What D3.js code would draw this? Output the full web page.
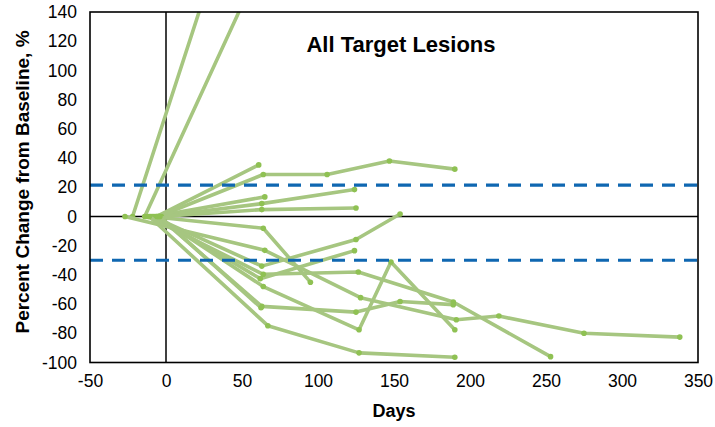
<!DOCTYPE html>
<html>
<head>
<meta charset="utf-8">
<script src="https://cdn.jsdelivr.net/npm/d3@7"></script>
<style>
  html, body { margin: 0; padding: 0; background: #fff; }
  svg { display: block; font-family: "Liberation Sans", Arial, Helvetica, sans-serif; }
</style>
</head>
<body>
<svg id="chart" width="715" height="427"></svg>
<script>
// ---- data ----
const chartTitle = "All Target Lesions";
const xTitle = "Days";
const yTitle = "Percent Change from Baseline, %";
const xTicks = [-50, 0, 50, 100, 150, 200, 250, 300, 350];
const yTicks = [-100, -80, -60, -40, -20, 0, 20, 40, 60, 80, 100, 120, 140];
const thresholds = [21.5, -30];

// days of each assessment, one array per lesion series
const seriesDays = [
  [-22, 63],
  [-14, 63],
  [-6, 61],
  [-5, 64, 106, 147, 190],
  [-8, 65],
  [-4, 63, 124],
  [-3, 63, 125],
  [-10, 64, 95],
  [-9, 63, 125, 154],
  [-7, 62, 124],
  [-12, 64, 126.5, 189, 253],
  [-27, 65, 128, 191, 219, 275, 338],
  [-6, 64, 127, 148, 190],
  [-5, 63, 125, 154, 189],
  [-4, 62.5],
  [-11, 67, 127, 190]
];
// percent change from baseline, matching seriesDays
const seriesChange = [
  [0, 272],
  [0, 174],
  [0, 35.3],
  [0, 28.7, 28.7, 38, 32.4],
  [0, 13.4],
  [0, 8.8, 18.4],
  [0, 4.7, 5.8],
  [0, -8.1, -45],
  [0, -34, -15.8, 1.7],
  [0, -42.6, -23.4],
  [0, -39.6, -38, -58.6, -96],
  [0, -23.2, -55.6, -70.7, -68.2, -80, -82.6],
  [0, -48, -77.6, -31.2, -77.6],
  [0, -61.6, -65.5, -58.2, -60.4],
  [0, -62.5],
  [0, -74.8, -93.4, -96.4]
];

// ---- layout ----
const svg = d3.select("#chart");
const pLeft = 90, pRight = 698, pTop = 12, pBottom = 362.5;

const x = d3.scaleLinear().domain([-50, 350]).range([pLeft, pRight]);
const y = d3.scaleLinear().domain([-100, 140]).range([pBottom, pTop]);

svg.append("defs").append("clipPath").attr("id", "plotclip")
  .append("rect").attr("x", pLeft).attr("y", pTop)
  .attr("width", pRight - pLeft).attr("height", pBottom - pTop);

// zero axes
svg.append("line").attr("x1", x(0)).attr("x2", x(0)).attr("y1", pTop).attr("y2", pBottom)
  .attr("stroke", "#000").attr("stroke-width", 1.5);
svg.append("line").attr("x1", pLeft).attr("x2", pRight).attr("y1", y(0)).attr("y2", y(0))
  .attr("stroke", "#000").attr("stroke-width", 1.5);

// series
const plot = svg.append("g").attr("clip-path", "url(#plotclip)");
const line = d3.line().x(d => x(d[0])).y(d => y(d[1]));
const lineColor = "#a6c680";
const dotColor = "#8fc153";

seriesDays.forEach((days, i) => {
  const pts = days.map((d, j) => [d, seriesChange[i][j]]);
  const g = plot.append("g");
  g.append("path").datum(pts).attr("d", line)
    .attr("fill", "none").attr("stroke", lineColor)
    .attr("stroke-width", 3.6).attr("stroke-linejoin", "round").attr("stroke-linecap", "round");
  g.selectAll("circle").data(pts).join("circle")
    .attr("cx", d => x(d[0])).attr("cy", d => y(d[1])).attr("r", 2.8)
    .attr("fill", dotColor);
});

// threshold dashed lines
thresholds.forEach(t => {
  svg.append("line").attr("x1", pLeft).attr("x2", pRight).attr("y1", y(t)).attr("y2", y(t))
    .attr("stroke", "#0f67b1").attr("stroke-width", 3.2).attr("stroke-dasharray", "13,9");
});

// plot frame
svg.append("rect").attr("x", pLeft).attr("y", pTop).attr("width", pRight - pLeft).attr("height", pBottom - pTop)
  .attr("fill", "none").attr("stroke", "#000").attr("stroke-width", 1.6);

// axes labels (no tick marks), plain hyphen minus like the reference
const fmt = d => String(d);
const yAxis = d3.axisLeft(y).tickValues(yTicks).tickFormat(fmt).tickSize(0).tickPadding(0);
const yg = svg.append("g").attr("transform", `translate(${pLeft - 13},0)`).call(yAxis);
yg.select(".domain").remove();
yg.selectAll("text").attr("font-size", 17.5).attr("fill", "#000")
  .attr("font-family", "Liberation Sans, Arial, sans-serif");

const xAxis = d3.axisBottom(x).tickValues(xTicks).tickFormat(fmt).tickSize(0).tickPadding(0);
const xg = svg.append("g").attr("transform", `translate(0,${pBottom + 12})`).call(xAxis);
xg.select(".domain").remove();
xg.selectAll("text").attr("font-size", 17.5).attr("fill", "#000")
  .attr("font-family", "Liberation Sans, Arial, sans-serif");

// titles
svg.append("text").attr("x", 401).attr("y", 52).attr("text-anchor", "middle")
  .attr("font-size", 22).attr("font-weight", "bold").text(chartTitle);
svg.append("text").attr("x", 394).attr("y", 417).attr("text-anchor", "middle")
  .attr("font-size", 18).attr("font-weight", "bold").text(xTitle);
svg.append("text").attr("transform", "translate(29,182) rotate(-90)").attr("text-anchor", "middle")
  .attr("font-size", 19).attr("font-weight", "bold").text(yTitle);
</script>
</body>
</html>
